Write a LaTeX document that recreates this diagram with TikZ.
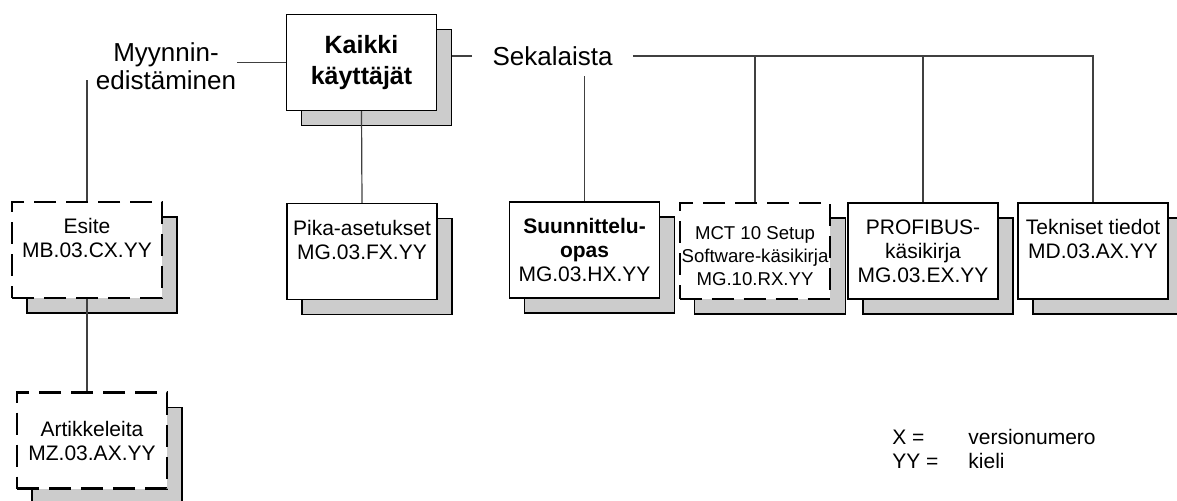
\documentclass[tikz,border=0pt]{standalone}
\usepackage{fontspec}
\setmainfont{Liberation Sans}
\usetikzlibrary{shadows}
\tikzset{
doc/.style={
  draw, fill=white, line width=.6pt,
  minimum width=75pt, minimum height=48pt,
  align=center, inner sep=1pt,
  font=\fontsize{10.5}{12}\selectfont,
  general shadow={shadow xshift=7.5pt, shadow yshift=-7.5pt,
    fill=gray!40, draw=black, solid, line width=.6pt}
},
draft/.style={doc, dash pattern=on 11pt off 5pt, line width=1.1pt},
heading/.style={inner sep=0pt, align=center, font=\fontsize{13}{14}\selectfont},
link/.style={draw=black!75, line width=.6pt},
}

\begin{document}
\begin{tikzpicture}[x=.5pt,y=-.5pt]
\useasboundingbox (0,0) rectangle (1177,500);
% the top level
\node[doc,font=\fontsize{12.5}{15.5}\selectfont\bfseries] (kaikki) at (361.5,62.5) {Kaikki\\käyttäjät};
\node[heading] (myynti) at (166,66) {Myynnin-\\edistäminen};
\node[heading,inner xsep=10pt] (seka) at (552.5,56) {Sekalaista};
% the documents
\node[draft] (esite) at (87,250) {Esite\\MB.03.CX.YY\\\mbox{}};
\node[draft] (artik) at (92,440.5) {Artikkeleita\\MZ.03.AX.YY};
\node[doc] (pika) at (362,251.5) {Pika-asetukset\\MG.03.FX.YY\\\mbox{}};
\node[doc] (suunn) at (584.5,250) {\textbf{Suunnittelu-}\\\textbf{opas}\\MG.03.HX.YY};
\node[draft,font=\fontsize{9.3}{11.5}\selectfont] (mct) at (755,251) {\rule{0pt}{12pt}MCT 10 Setup\\Software-käsikirja\\MG.10.RX.YY};
\node[doc] (prof) at (923,251) {PROFIBUS-\\käsikirja\\MG.03.EX.YY};
\node[doc] (tekn) at (1093,251) {Tekniset tiedot\\MD.03.AX.YY\\\mbox{}};
% legend
\node[anchor=west,inner sep=0pt,align=left,font=\fontsize{10.5}{12}\selectfont] (legend) at (892,449)
  {\makebox[38pt][l]{X =}versionumero\\\makebox[38pt][l]{YY =}kieli};
% the connectors
\coordinate (myynti-foot) at (87,80);
\coordinate (seka-foot) at (584.5,76);
\draw[link] (kaikki.west) -- (kaikki.west -| myynti.east);
\draw[link] (myynti-foot) -- (esite.north);
\draw[link] (esite.south) -- (esite.south |- artik.north);
\draw[link] (kaikki.south) -- (pika.north);
\draw[link] (seka.west) -- ([xshift=7.5pt]kaikki.east |- seka.west);
\draw[link] (seka-foot) -- (suunn.north);
\draw[link] (seka.east) -- (seka.east -| tekn.north) -- (tekn.north);
\draw[link] (mct.north) -- (mct.north |- seka.east);
\draw[link] (prof.north) -- (prof.north |- seka.east);
\end{tikzpicture}
\end{document}
